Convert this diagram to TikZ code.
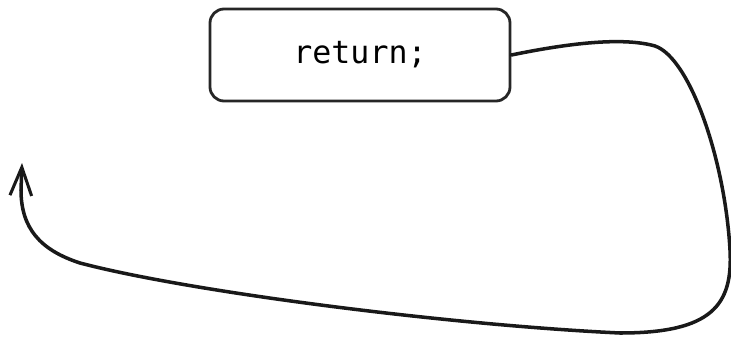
\documentclass[tikz,border=0pt]{standalone}
\usepackage{fontspec}
\setmonofont{DejaVu Sans Mono}
\usetikzlibrary{arrows.meta, positioning}

\begin{document}
\begin{tikzpicture}[
    x=0.03cm, y=-0.03cm,
    stmt/.style={rectangle, rounded corners=12pt, draw=black!85, line width=2.4pt, minimum width=9cm, minimum height=2.76cm, align=center, font=\ttfamily\fontsize{27}{32}\selectfont},
    back/.style={-{Straight Barb[length=0.85cm, width=0.65cm, line width=2.6pt]}, line width=3pt, black!90, line cap=round}
]
\useasboundingbox (0,0) rectangle (731,337);

% Anweisung
\node[stmt] (ret) at (360,55) {return;};

% Ruecksprung
\coordinate (top) at (22,163);
\draw[back] (ret.east) .. controls (560,45) and (620,36) .. (655,46)
    .. controls (690,58) and (725,160) .. (730,250)
    .. controls (733,305) and (712,333) .. (620,333)
    .. controls (450,325) and (190,292) .. (80,263)
    .. controls (40,250) and (21,228) .. (21,190) -- (top);

\end{tikzpicture}
\end{document}
